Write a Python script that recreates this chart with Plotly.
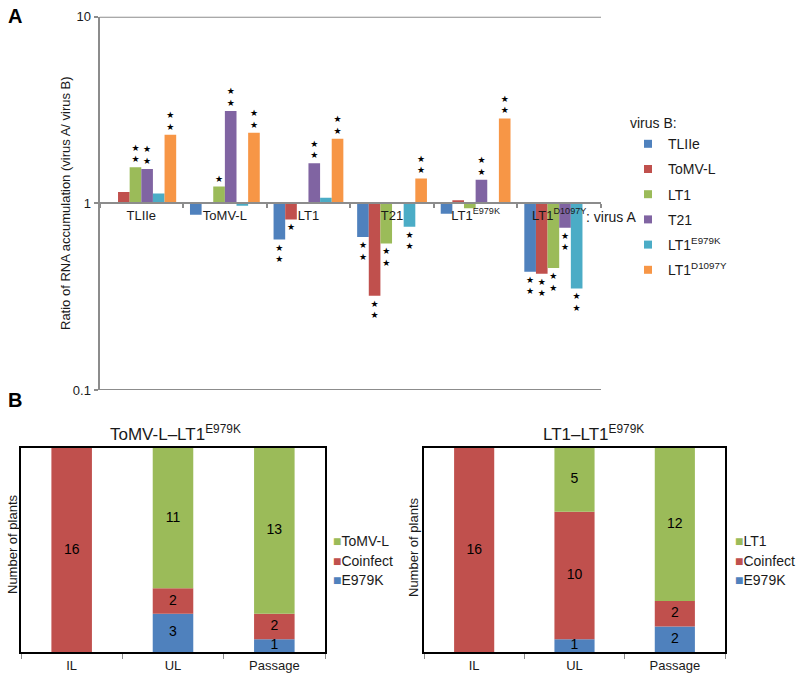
import numpy as np
import plotly.graph_objects as go

FONT = "Liberation Sans, Arial, sans-serif"
TXT = "#1a1a1a"
AXIS_GREY = "#8c8c8c"

# ---- panel A data ----
virus_a = ["TLIIe", "ToMV-L", "LT1", "T21", "LT1<sup>E979K</sup>", "LT1<sup>D1097Y</sup>"]
virus_b = ["TLIIe", "ToMV-L", "LT1", "T21", "LT1<sup>E979K</sup>", "LT1<sup>D1097Y</sup>"]
colors_b = ["#4F81BD", "#C0504D", "#9BBB59", "#8064A2", "#4BACC6", "#F79646"]

# ratio (virus A / virus B) per virus B series, across virus A categories
ratio_tl = [None, 0.87, 0.64, 0.66, 0.88, 0.43]
ratio_tomv = [1.15, None, 0.82, 0.32, 1.04, 0.42]
ratio_lt1 = [1.56, 1.23, None, 0.61, 0.94, 0.45]
ratio_t21 = [1.53, 3.12, 1.64, None, 1.34, 0.74]
ratio_e979k = [1.13, 0.97, 1.07, 0.75, None, 0.35]
ratio_d1097y = [2.33, 2.39, 2.22, 1.36, 2.85, None]

sig_tl = ["", "", "**", "**", "", "**"]
sig_tomv = ["", "", "*", "**", "", "**"]
sig_lt1 = ["**", "*", "", "**", "", "**"]
sig_t21 = ["**", "**", "**", "", "**", "**"]
sig_e979k = ["", "", "", "**", "", "**"]
sig_d1097y = ["**", "**", "**", "**", "**", ""]

ratios = [ratio_tl, ratio_tomv, ratio_lt1, ratio_t21, ratio_e979k, ratio_d1097y]
sigs = [sig_tl, sig_tomv, sig_lt1, sig_t21, sig_e979k, sig_d1097y]

# ---- panel B data ----
stages = ["IL", "UL", "Passage"]
left_e979k = [0, 3, 1]
left_coinf = [16, 2, 2]
left_tomv = [0, 11, 13]
right_e979k = [0, 1, 2]
right_coinf = [16, 10, 2]
right_lt1 = [0, 5, 12]
B_GREEN, B_RED, B_BLUE = "#9BBB59", "#C0504D", "#4F81BD"

W, H = 799, 678


def px(x):
    return x / W


def py(y):
    return 1 - y / H


def star_text(s):
    return "<br>".join("★" for _ in s)


fig = go.Figure()

for name, col, vals, sg in zip(virus_b, colors_b, ratios, sigs):
    v = np.array([np.nan if x is None else x for x in vals])
    fig.add_trace(go.Bar(
        x=virus_a, y=v - 1, base=1, marker_color=col, marker_line_width=0,
        text=[star_text(s) for s in sg], textposition="outside",
        textfont=dict(size=9, color="black", family="DejaVu Sans"),
        cliponaxis=False, showlegend=False, xaxis="x", yaxis="y",
    ))
    fig.add_trace(go.Scatter(
        x=[None], y=[None], mode="markers", name=name, legend="legend",
        legendgroup=name, marker=dict(symbol="square", size=8, color=col),
        xaxis="x", yaxis="y",
    ))


def stacked(xa, ya, series, leg_x):
    bottoms = np.cumsum([np.zeros(3)] + [np.array(s) for _, s, _ in series[:-1]], axis=0)
    for (name, vals, col), b in zip(series, bottoms):
        vals = np.array(vals)
        fig.add_trace(go.Bar(
            x=stages, y=vals, base=b, width=0.4, offsetgroup="s",
            marker_color=col, marker_line_width=0, showlegend=False,
            xaxis=xa, yaxis=ya,
        ))
        fig.add_trace(go.Scatter(
            x=[s for s, n in zip(stages, vals) if n > 0],
            y=[bb + n / 2 for bb, n in zip(b, vals) if n > 0],
            text=[str(n) for n in vals if n > 0], mode="text",
            textfont=dict(size=14, color="black"), showlegend=False,
            xaxis=xa, yaxis=ya,
        ))
    # small Excel-style legend: coloured square followed by the label
    for i, (name, _, col) in enumerate(series[::-1]):
        fig.add_annotation(
            text=f"<span style='color:{col}'>■</span>{name}", xref="paper", yref="paper",
            x=px(leg_x), y=py(541 + i * 19.5), xanchor="left", yanchor="middle",
            showarrow=False, font=dict(size=14, color=TXT),
        )


stacked("x2", "y2", [("E979K", left_e979k, B_BLUE),
                     ("Coinfect", left_coinf, B_RED),
                     ("ToMV-L", left_tomv, B_GREEN)], 331)
stacked("x3", "y3", [("E979K", right_e979k, B_BLUE),
                     ("Coinfect", right_coinf, B_RED),
                     ("LT1", right_lt1, B_GREEN)], 733)

yA_dom = [py(390), py(16.7)]
xA_dom = [px(99.5), px(601)]
yB_dom = [py(652), py(448)]

legend_font = dict(size=14, color=TXT, family=FONT)
fig.update_layout(
    width=W, height=H, margin=dict(l=0, r=0, t=0, b=0, autoexpand=False),
    paper_bgcolor="white", plot_bgcolor="white",
    font=dict(family=FONT, color=TXT, size=13),
    barmode="group", bargap=0.165, bargroupgap=0,
    xaxis=dict(domain=xA_dom, anchor="free", position=py(203.3), type="category",
               showline=True, linecolor=AXIS_GREY, linewidth=2,
               ticks="outside", tickson="boundaries", ticklen=4, tickwidth=2,
               tickcolor=AXIS_GREY, showgrid=False, tickfont=dict(size=13)),
    yaxis=dict(domain=yA_dom, type="log", range=[-1, 1],
               tickvals=[0.1, 1, 10], ticktext=["0.1", "1", "10"],
               showline=True, linecolor=AXIS_GREY, linewidth=2,
               ticks="outside", ticklen=4, tickwidth=2, tickcolor=AXIS_GREY,
               showgrid=False, zeroline=False, tickfont=dict(size=13)),
    xaxis2=dict(domain=[px(21), px(325)], anchor="y2", showline=True, mirror=True,
                linecolor="black", linewidth=2, ticks="outside", tickson="boundaries",
                ticklen=5, tickcolor=AXIS_GREY, showgrid=False, tickfont=dict(size=13)),
    yaxis2=dict(domain=yB_dom, anchor="x2", range=[0, 16],
                showline=True, mirror=True, linecolor="black", linewidth=2,
                showticklabels=False, showgrid=False, zeroline=False),
    xaxis3=dict(domain=[px(424), px(725)], anchor="y3", showline=True, mirror=True,
                linecolor="black", linewidth=2, ticks="outside", tickson="boundaries",
                ticklen=5, tickcolor=AXIS_GREY, showgrid=False, tickfont=dict(size=13)),
    yaxis3=dict(domain=yB_dom, anchor="x3", range=[0, 16],
                showline=True, mirror=True, linecolor="black", linewidth=2,
                showticklabels=False, showgrid=False, zeroline=False),
    legend=dict(x=px(628), y=py(110), xanchor="left", yanchor="top",
                title=dict(text="virus B:", font=legend_font), font=legend_font,
                tracegroupgap=4, bgcolor="rgba(0,0,0,0)"),
)

# top and bottom border lines of panel A
for yv in (10, 0.1):
    fig.add_shape(type="line", xref="paper", yref="y", x0=xA_dom[0], x1=xA_dom[1],
                  y0=yv, y1=yv, line=dict(color=AXIS_GREY, width=2))

# axis titles
for text, xx, yy in [("Ratio of RNA accumulation (virus A/ virus B)", 65, 203),
                     ("Number of plants", 12, 545), ("Number of plants", 413, 548)]:
    fig.add_annotation(text=text, xref="paper", yref="paper", x=px(xx), y=py(yy),
                       xanchor="center", yanchor="middle", textangle=-90,
                       showarrow=False, font=dict(size=13))

fig.add_annotation(text=": virus A", xref="paper", yref="paper", x=px(584),
                   y=py(217), xanchor="left", yanchor="middle", showarrow=False,
                   font=dict(size=14))
fig.add_annotation(text="<b>A</b>", xref="paper", yref="paper", x=px(6), y=py(3),
                   xanchor="left", yanchor="top", showarrow=False, font=dict(size=20, color="black"))
fig.add_annotation(text="<b>B</b>", xref="paper", yref="paper", x=px(6), y=py(387),
                   xanchor="left", yanchor="top", showarrow=False, font=dict(size=20, color="black"))
fig.add_annotation(text="ToMV-L–LT1<sup>E979K</sup>", xref="paper", yref="paper",
                   x=px(175), y=py(433), xanchor="center", yanchor="middle",
                   showarrow=False, font=dict(size=17))
fig.add_annotation(text="LT1–LT1<sup>E979K</sup>", xref="paper", yref="paper",
                   x=px(593), y=py(433), xanchor="center", yanchor="middle",
                   showarrow=False, font=dict(size=17))

# drop the default 8px page margin so the figure fills the window exactly
fig.write_html("out.html", config={"displayModeBar": False},
               post_script="document.body.style.margin='0px';")
